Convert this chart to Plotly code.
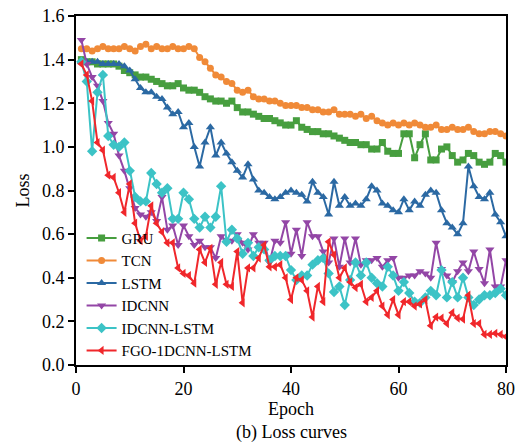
import plotly.graph_objects as go

epochs = list(range(1, 81))

gru = [1.40, 1.39, 1.39, 1.38, 1.38, 1.38, 1.38, 1.37, 1.35, 1.34,
       1.33, 1.32, 1.32, 1.31, 1.30, 1.29, 1.28, 1.28, 1.29, 1.27,
       1.26, 1.26, 1.25, 1.23, 1.22, 1.21, 1.21, 1.20, 1.21, 1.18,
       1.16, 1.16, 1.15, 1.14, 1.13, 1.13, 1.12, 1.11, 1.10, 1.10,
       1.12, 1.09, 1.08, 1.07, 1.07, 1.06, 1.06, 1.05, 1.04, 1.03,
       1.02, 1.02, 1.01, 1.01, 0.99, 0.99, 1.02, 0.98, 0.97, 0.97,
       1.06, 1.06, 0.95, 1.01, 1.06, 0.94, 0.94, 0.99, 1.00, 0.96,
       0.93, 0.94, 0.97, 0.96, 0.93, 0.92, 0.93, 0.97, 0.96, 0.93]

tcn = [1.45, 1.45, 1.44, 1.45, 1.46, 1.45, 1.45, 1.45, 1.46, 1.45,
       1.44, 1.46, 1.47, 1.45, 1.46, 1.45, 1.45, 1.46, 1.45, 1.45,
       1.46, 1.45, 1.41, 1.39, 1.36, 1.33, 1.32, 1.30, 1.29, 1.26,
       1.25, 1.26, 1.23, 1.22, 1.22, 1.21, 1.21, 1.20, 1.19, 1.19,
       1.19, 1.18, 1.18, 1.17, 1.17, 1.16, 1.16, 1.17, 1.15, 1.15,
       1.15, 1.14, 1.15, 1.13, 1.14, 1.12, 1.11, 1.10, 1.11, 1.10,
       1.11, 1.10, 1.11, 1.10, 1.09, 1.09, 1.10, 1.08, 1.08, 1.09,
       1.08, 1.08, 1.09, 1.07, 1.06, 1.06, 1.07, 1.07, 1.06, 1.05]

lstm = [1.39, 1.39, 1.39, 1.39, 1.38, 1.38, 1.38, 1.38, 1.37, 1.35,
        1.31, 1.27, 1.25, 1.25, 1.23, 1.22, 1.18, 1.15, 1.16, 1.09,
        1.11, 1.00, 0.91, 1.02, 1.09, 0.96, 1.02, 0.97, 0.93, 0.89,
        0.86, 0.92, 0.85, 0.80, 0.79, 0.77, 0.76, 0.77, 0.79, 0.80,
        0.79, 0.78, 0.75, 0.84, 0.79, 0.77, 0.69, 0.84, 0.73, 0.77,
        0.73, 0.74, 0.73, 0.76, 0.82, 0.80, 0.74, 0.73, 0.71, 0.70,
        0.76, 0.71, 0.75, 0.73, 0.78, 0.80, 0.79, 0.71, 0.65, 0.63,
        0.60, 0.65, 0.91, 0.82, 0.77, 0.76, 0.79, 0.69, 0.655, 0.59]

idcnn = [1.49, 1.38, 1.32, 1.28, 1.21, 1.11, 1.06, 0.96, 0.89, 0.81,
         0.72, 0.69, 0.68, 0.70, 0.66, 0.77, 0.62, 0.64, 0.55, 0.64,
         0.59, 0.55, 0.57, 0.54, 0.54, 0.49, 0.59, 0.57, 0.57, 0.60,
         0.56, 0.53, 0.60, 0.56, 0.56, 0.47, 0.57, 0.56, 0.655, 0.51,
         0.62, 0.50, 0.655, 0.59, 0.59, 0.52, 0.47, 0.58, 0.45, 0.58,
         0.47, 0.58, 0.46, 0.48, 0.48, 0.49, 0.45, 0.48, 0.49, 0.40,
         0.40, 0.41, 0.41, 0.43, 0.42, 0.40, 0.56, 0.44, 0.41, 0.38,
         0.43, 0.47, 0.43, 0.52, 0.44, 0.375, 0.53, 0.36, 0.36, 0.48]

idcnn_lstm = [1.39, 1.30, 0.98, 1.25, 1.33, 1.05, 1.01, 1.00, 1.02, 0.89,
              0.77, 0.75, 0.75, 0.88, 0.83, 0.79, 0.81, 0.67, 0.67, 0.79,
              0.76, 0.67, 0.63, 0.68, 0.63, 0.68, 0.82, 0.565, 0.62, 0.58,
              0.51, 0.56, 0.50, 0.54, 0.53, 0.48, 0.50, 0.50, 0.50, 0.435,
              0.39, 0.41, 0.41, 0.46, 0.48, 0.49, 0.42, 0.335, 0.36, 0.275,
              0.39, 0.47, 0.41, 0.47, 0.40, 0.375, 0.36, 0.45, 0.41, 0.34,
              0.38, 0.33, 0.29, 0.285, 0.31, 0.34, 0.32, 0.435, 0.31, 0.38,
              0.31, 0.40, 0.31, 0.275, 0.30, 0.32, 0.32, 0.33, 0.35, 0.32]

fgo = [1.38, 1.33, 1.21, 1.02, 0.985, 0.87, 0.86, 0.79, 0.70, 0.83,
       0.65, 0.57, 0.59, 0.73, 0.65, 0.61, 0.56, 0.56, 0.445, 0.42,
       0.41, 0.375, 0.53, 0.47, 0.535, 0.37, 0.47, 0.37, 0.36, 0.52,
       0.285, 0.445, 0.445, 0.49, 0.55, 0.45, 0.45, 0.46, 0.40, 0.30,
       0.40, 0.39, 0.34, 0.22, 0.36, 0.29, 0.565, 0.505, 0.40, 0.445,
       0.38, 0.355, 0.37, 0.29, 0.31, 0.34, 0.27, 0.23, 0.30, 0.23,
       0.29, 0.29, 0.27, 0.28, 0.30, 0.18, 0.22, 0.215, 0.19, 0.24,
       0.215, 0.21, 0.32, 0.19, 0.19, 0.14, 0.14, 0.145, 0.14, 0.13]

series = [
    ("GRU", gru, "#479e3f", "square", 7),
    ("TCN", tcn, "#f08a38", "circle", 7),
    ("LSTM", lstm, "#2b69a3", "triangle-up", 8),
    ("IDCNN", idcnn, "#9346a6", "triangle-down", 8),
    ("IDCNN-LSTM", idcnn_lstm, "#3cc3c6", "diamond", 8),
    ("FGO-1DCNN-LSTM", fgo, "#f0272b", "triangle-left", 8),
]

fig = go.Figure()
for name, vals, color, symbol, size in series:
    fig.add_trace(go.Scatter(
        x=epochs, y=vals, name=name, mode="lines+markers",
        line=dict(color=color, width=2),
        marker=dict(symbol=symbol, size=size, color=color, line=dict(width=0)),
    ))

font_family = "Liberation Serif, Times New Roman, serif"
axis_common = dict(
    showline=True, linecolor="black", linewidth=2, mirror=True,
    ticks="outside", ticklen=6, tickwidth=2, tickcolor="black",
    showgrid=False, zeroline=False, automargin=False,
    tickfont=dict(family=font_family, size=18, color="black"),
)

fig.update_layout(
    width=516, height=446,
    margin=dict(l=76, r=10, t=16, b=81),
    paper_bgcolor="white", plot_bgcolor="white",
    font=dict(family=font_family, color="black"),
    xaxis=dict(range=[0, 80], tickvals=[0, 20, 40, 60, 80],
               title=dict(text="Epoch", font=dict(family=font_family, size=18), standoff=2),
               **axis_common),
    yaxis=dict(range=[0, 1.6], tickvals=[0, 0.2, 0.4, 0.6, 0.8, 1.0, 1.2, 1.4, 1.6],
               tickformat=".1f",
               title=dict(text="Loss", font=dict(family=font_family, size=18), standoff=8),
               **axis_common),
    legend=dict(x=0.013, y=-0.005, xanchor="left", yanchor="bottom",
                bgcolor="rgba(0,0,0,0)", borderwidth=0,
                font=dict(family=font_family, size=15, color="black"),
                tracegroupgap=0),
    showlegend=True,
)

fig.add_annotation(text="(b) Loss curves", xref="paper", yref="paper",
                   x=0.5, y=0, yshift=-67, xanchor="center", yanchor="middle",
                   showarrow=False,
                   font=dict(family=font_family, size=18, color="black"))

fig.write_html("out.html")
